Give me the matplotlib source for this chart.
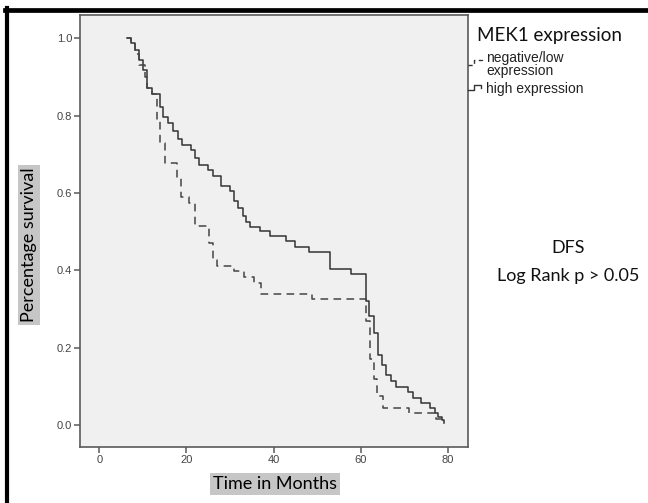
#!/usr/bin/env python3
"""Kaplan-Meier DFS curves by MEK1 expression."""

import matplotlib
matplotlib.use("Agg")
import matplotlib.pyplot as plt
from matplotlib.lines import Line2D

# ── data (time in months, survival after each step) ───
low_t = [6.3, 7.2, 8.3, 9.2, 10.5, 11.0, 12.0, 13.2, 14.0, 15.1, 17.8, 18.8,
         20.6, 22.0, 25.2, 26.2, 27.0, 30.8, 33.2, 35.5, 37.0, 48.8, 61.2,
         62.1, 63.0, 63.8, 65.0, 71.0, 77.3, 79.0]
low_s = [1.0, 0.985, 0.96, 0.93, 0.90, 0.87, 0.855, 0.785, 0.73, 0.678, 0.64, 0.59,
         0.574, 0.515, 0.47, 0.427, 0.412, 0.397, 0.382, 0.367, 0.339, 0.325, 0.27,
         0.17, 0.12, 0.074, 0.044, 0.031, 0.016, 0.016]

high_t = [6.3, 7.3, 8.2, 9.2, 10.1, 11.0, 12.0, 13.9, 14.7, 15.8, 17.0, 18.0,
          18.9, 21.0, 21.9, 22.9, 25.0, 26.1, 28.0, 30.0, 30.9, 31.9, 33.0, 33.6,
          34.6, 36.8, 39.1, 42.9, 44.8, 48.1, 53.0, 57.8, 61.1, 61.8, 62.9, 63.9,
          64.9, 65.8, 67.0, 68.1, 70.8, 72.0, 73.9, 75.8, 77.0, 77.7, 78.5, 79.0]
high_s = [1.0, 0.987, 0.97, 0.943, 0.918, 0.871, 0.855, 0.823, 0.797, 0.78, 0.76, 0.74,
          0.724, 0.71, 0.69, 0.672, 0.658, 0.643, 0.617, 0.605, 0.58, 0.562, 0.54, 0.524,
          0.513, 0.501, 0.489, 0.475, 0.46, 0.446, 0.404, 0.391, 0.32, 0.281, 0.238, 0.182,
          0.154, 0.128, 0.113, 0.099, 0.085, 0.07, 0.057, 0.044, 0.031, 0.02, 0.012, 0.004]

x_ticks = [0, 20, 40, 60, 80]
y_ticks = [0.0, 0.2, 0.4, 0.6, 0.8, 1.0]

W, H = 648, 503
LINE = "#333333"
SPINE = "#5a5a5a"
TICKC = "#444444"

def fx(px):
    return px / W

def fy(py):
    return 1 - py / H

fig = plt.figure(figsize=(6.48, 5.03), dpi=100)
ax = fig.add_axes([fx(80), fy(447), fx(467.7) - fx(80), fy(15) - fy(447)])
ax.set_facecolor("#f0f0f0")

ax.step(high_t, high_s, where="post", color=LINE, linewidth=1.1)
ax.step(low_t, low_s, where="post", color="#444444", linewidth=1.1,
        linestyle=(0, (5, 3.5)))

ax.set_xlim(-4.4, 84.5)
ax.set_ylim(-0.057, 1.06)
ax.set_xticks(x_ticks)
ax.set_yticks(y_ticks)
ax.set_xticklabels([str(v) for v in x_ticks])
ax.set_yticklabels([f"{v:.1f}" for v in y_ticks])
for sp in ax.spines.values():
    sp.set_color(SPINE)
    sp.set_linewidth(1.2)
ax.tick_params(direction="out", length=4.5, width=1.1, color=SPINE,
               labelcolor=TICKC, labelsize=8, pad=1)
for lab in ax.get_xticklabels() + ax.get_yticklabels():
    lab.set_family("Liberation Sans")

# axis titles with grey boxes
box = dict(boxstyle="square,pad=0.15", fc="#c6c6c6", ec="none")
fig.text(fx(275), fy(484), "Time in Months", fontsize=13, family="Lato",
         ha="center", va="center", bbox=box)
fig.text(fx(29), fy(245), "Percentage survival", fontsize=13, family="Lato",
         ha="center", va="center", rotation=90, bbox=box)

# legend drawn by hand
fig.text(fx(477), fy(35), "MEK1 expression", fontsize=13.5, family="Lato",
         ha="left", va="center", color="#111111")
fig.add_artist(Line2D([fx(468), fx(474), fx(474), fx(482), fx(482)],
                      [fy(65), fy(65), fy(60), fy(60), fy(63)],
                      color=LINE, linewidth=1.0, linestyle=(0, (3, 2.5))))
fig.add_artist(Line2D([fx(468), fx(473.5), fx(473.5), fx(481), fx(481)],
                      [fy(90), fy(90), fy(85), fy(85), fy(88)],
                      color=LINE, linewidth=1.0))
fig.text(fx(486), fy(58), "negative/low", fontsize=10, family="Liberation Sans",
         ha="left", va="center", color="#222222")
fig.text(fx(486), fy(71), "expression", fontsize=10, family="Liberation Sans",
         ha="left", va="center", color="#222222")
fig.text(fx(486), fy(89), "high expression", fontsize=10, family="Liberation Sans",
         ha="left", va="center", color="#222222")

# annotation
fig.text(fx(568), fy(248), "DFS", fontsize=13, family="Lato",
         ha="center", va="center", color="#111111")
fig.text(fx(568), fy(276), "Log Rank p > 0.05", fontsize=13, family="Lato",
         ha="center", va="center", color="#111111")

# black frame on top and left
fig.add_artist(Line2D([fx(5), fx(648)], [fy(10), fy(10)], color="black", linewidth=3.4))
fig.add_artist(Line2D([fx(7), fx(7)], [fy(8), fy(503)], color="black", linewidth=3.0))

fig.savefig("out.png", dpi=100)
